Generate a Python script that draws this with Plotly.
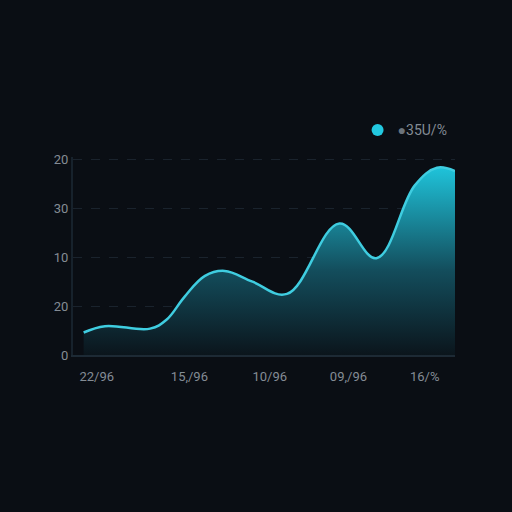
import plotly.graph_objects as go

# values (x in tick units, y in axis units)
x_vals = [-0.16, 0.10, 0.65, 0.85, 1.07, 1.32, 1.56, 1.90, 2.32,
          2.96, 3.41, 3.88, 4.15, 4.37]
y_vals = [4.6, 5.9, 5.4, 7.2, 11.9, 16.2, 17.2, 15.0, 12.5,
          26.9, 19.8, 34.7, 38.3, 37.6]

x_ticks = [0, 1.13, 2.11, 3.07, 4.0]
x_labels = ['22/96', '15,/96', '10/96', '09,/96', '16/%']
y_ticks = [0, 10, 20, 30, 40]
y_labels = ['0', '20', '10', '30', '20']

series_name = '35U/%'

bg = '#0a0e14'
cyan = '#3fcde0'
grey = '#848c94'

fig = go.Figure()

fig.add_trace(go.Scatter(
    x=x_vals, y=y_vals,
    mode='lines',
    line=dict(color=cyan, width=2.5, shape='spline', smoothing=1.1),
    fill='tozeroy',
    fillgradient=dict(type='vertical',
                      colorscale=[[0, '#0b151c'], [0.45, '#134d5c'], [1, '#1fc3da']]),
    showlegend=False,
    hoverinfo='skip',
))

# legend-only entry
fig.add_trace(go.Scatter(
    x=[None], y=[None],
    mode='markers',
    marker=dict(color='#22c8e0', size=12),
    name='<span style="color:#6b737b">\u25cf</span>' + series_name,
))

fig.update_layout(
    width=512, height=512,
    paper_bgcolor=bg, plot_bgcolor=bg,
    margin=dict(l=73, r=57, t=157, b=157),
    font=dict(family='Roboto, Open Sans, sans-serif', size=13, color=grey),
    legend=dict(x=0.745, y=1.215, xanchor='left', yanchor='top',
                bgcolor='rgba(0,0,0,0)', font=dict(size=14, color=grey),
                itemsizing='constant'),
    xaxis=dict(
        range=[-0.29, 4.37],
        tickvals=x_ticks, ticktext=x_labels,
        showgrid=False, zeroline=False,
        showline=True, linecolor='#1d2a35', linewidth=2,
        ticks='', ticklabelstandoff=8,
        tickfont=dict(size=13, color=grey),
    ),
    yaxis=dict(
        range=[0, 40.5],
        tickvals=y_ticks, ticktext=y_labels,
        showgrid=True, gridcolor='#1a232d', griddash='dash', gridwidth=1,
        zeroline=False,
        showline=True, linecolor='#17222c', linewidth=2,
        ticks='', ticklabelstandoff=0,
        tickfont=dict(size=13, color=grey),
    ),
)

fig.write_html("out.html", config={'displayModeBar': False},
               post_script="document.body.style.margin='0';")
